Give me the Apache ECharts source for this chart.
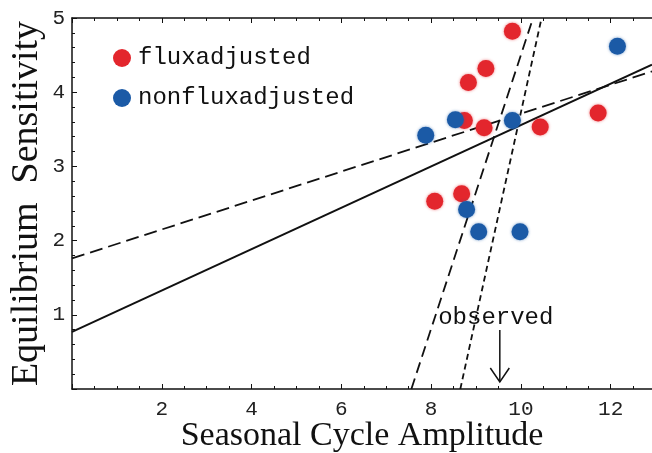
<!DOCTYPE html>
<html>
<head>
<meta charset="utf-8">
<script src="https://cdn.jsdelivr.net/npm/echarts@6/dist/echarts.min.js"></script>
<style>
html,body{margin:0;padding:0;background:#fff;}
#chart{width:652px;height:453px;}
</style>
</head>
<body>
<div id="chart"></div>
<script>
// ---- data ----
const fluxAdjusted = [
  [9.81, 4.82], [9.22, 4.32], [8.83, 4.13], [8.74, 3.62], [9.18, 3.52],
  [10.43, 3.53], [11.72, 3.72], [8.68, 2.63], [8.08, 2.53]
];
const nonFluxAdjusted = [
  [12.15, 4.62], [8.54, 3.63], [7.88, 3.42], [9.81, 3.62],
  [8.79, 2.42], [9.06, 2.12], [9.98, 2.12]
];
const fitSolid      = [[0, 0.77], [12.92, 4.37]];
const fitShallowDash = [[0, 1.76], [12.92, 4.28]];
const fitSteepDash  = [[7.56, 0], [10.27, 5]];
const fitSteepDot   = [[8.65, 0], [10.46, 5]];
const observedAmplitude = [[9.53, 0]];
const xTicks = [2, 4, 6, 8, 10, 12];
const yTicks = [1, 2, 3, 4, 5];
const legendNames = ['fluxadjusted', 'nonfluxadjusted'];
const xTitle = 'Seasonal Cycle Amplitude';
const yTitle = 'Equilibrium  Sensitivity';
const observedLabel = 'observed';

const RED = '#e3262d', BLUE = '#1b5aa6';
const MONO = '"Courier New", "Liberation Mono", monospace';
const SERIF = '"Liberation Serif", "Times New Roman", serif';

const chart = echarts.init(document.getElementById('chart'), null, {renderer: 'canvas'});

function lineSeries(data, type, width) {
  return {
    type: 'line', data: data, symbol: 'none', silent: true,
    lineStyle: {color: '#111', width: width, type: type},
    z: 3, animation: false
  };
}

const axisCommon = {
  axisLine: {show: true, lineStyle: {color: '#111', width: 1.5}},
  axisTick: {show: true, inside: true, length: 5, lineStyle: {color: '#111', width: 1}},
  minorTick: {show: true, length: 3, lineStyle: {color: '#111', width: 1}},
  splitLine: {show: false}
};

chart.setOption({
  animation: false,
  backgroundColor: '#fff',
  grid: {left: 72, top: 18, right: 0, bottom: 64, containLabel: false, outerBoundsMode: 'none'},
  legend: {
    data: legendNames,
    orient: 'vertical',
    left: 108, top: 41,
    icon: 'circle',
    itemWidth: 18, itemHeight: 18,
    itemGap: 16,
    textStyle: {fontFamily: MONO, fontSize: 24, color: '#111', lineHeight: 24, padding: [0, 0, 0, 2]}
  },
  xAxis: [
    Object.assign({}, axisCommon, {
      type: 'value', min: 0, max: 12.92, interval: 2,
      minorTick: Object.assign({}, axisCommon.minorTick, {splitNumber: 4}),
      axisLabel: {
        show: true, margin: 10, fontFamily: MONO, fontSize: 21, color: '#222',
        showMinLabel: false, showMaxLabel: false,
        formatter: v => (xTicks.indexOf(v) >= 0 ? String(v) : '')
      },
      name: xTitle, nameLocation: 'middle', nameGap: 30, nameMoveOverlap: false,
      nameTextStyle: {fontFamily: SERIF, fontSize: 34, color: '#111'}
    }),
    Object.assign({}, axisCommon, {
      type: 'value', min: 0, max: 12.92, interval: 2, position: 'top',
      minorTick: Object.assign({}, axisCommon.minorTick, {splitNumber: 4}),
      axisLabel: {show: false}
    })
  ],
  yAxis: Object.assign({}, axisCommon, {
    type: 'value', min: 0, max: 5, interval: 1,
    minorTick: Object.assign({}, axisCommon.minorTick, {splitNumber: 5}),
    axisLabel: {
      show: true, margin: 7, fontFamily: MONO, fontSize: 21, color: '#222',
      showMinLabel: false,
      formatter: v => (yTicks.indexOf(v) >= 0 ? String(v) : '')
    },
    name: yTitle, nameLocation: 'middle', nameGap: 26, nameRotate: 90, nameMoveOverlap: false,
    nameTextStyle: {fontFamily: SERIF, fontSize: 38, color: '#111'}
  }),
  series: [
    lineSeries(fitSolid, 'solid', 2),
    lineSeries(fitShallowDash, [13, 6], 1.8),
    lineSeries(fitSteepDash, [11, 6], 1.8),
    lineSeries(fitSteepDot, [6, 4], 1.8),
    {
      name: legendNames[0], type: 'scatter', data: fluxAdjusted,
      symbol: 'circle', symbolSize: 17,
      itemStyle: {color: RED, opacity: 1, shadowBlur: 3, shadowColor: 'rgba(227,38,45,0.6)'},
      z: 4
    },
    {
      name: legendNames[1], type: 'scatter', data: nonFluxAdjusted,
      symbol: 'circle', symbolSize: 17,
      itemStyle: {color: BLUE, opacity: 1, shadowBlur: 3, shadowColor: 'rgba(27,90,166,0.6)'},
      z: 5
    },
    {
      type: 'custom', data: observedAmplitude, silent: true, z: 6,
      renderItem: function (params, api) {
        const p = api.coord([api.value(0), api.value(1)]);
        const x = p[0], base = p[1];
        const tipY = base - 7;
        return {
          type: 'group',
          children: [
            {type: 'line', shape: {x1: x, y1: base - 59, x2: x, y2: tipY},
             style: {stroke: '#111', lineWidth: 1.5}},
            {type: 'polyline', shape: {points: [[x - 9.5, tipY - 14], [x, tipY], [x + 9.5, tipY - 14]]},
             style: {stroke: '#111', lineWidth: 1.5, fill: null}},
            {type: 'text', x: x - 4, y: base - 71,
             style: {text: observedLabel, fontFamily: MONO, fontSize: 24, fill: '#111',
                     align: 'center', verticalAlign: 'middle'}}
          ]
        };
      }
    }
  ]
});
</script>
</body>
</html>
